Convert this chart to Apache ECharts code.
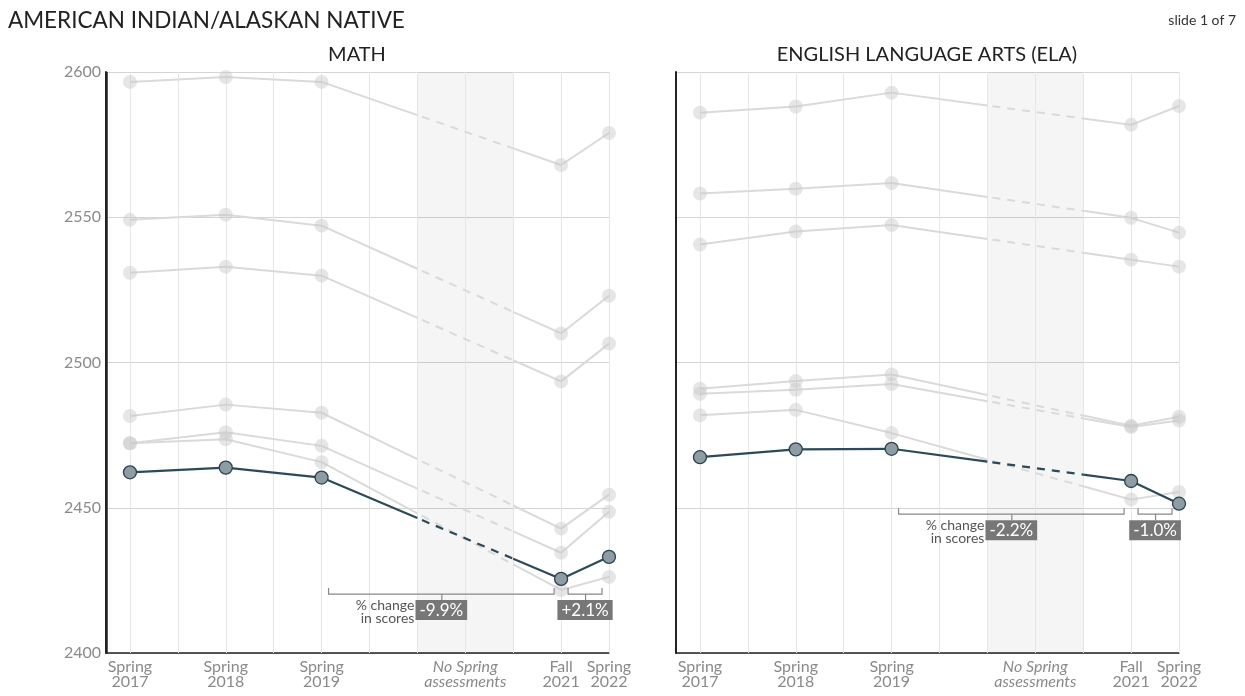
<!DOCTYPE html>
<html>
<head>
<meta charset="utf-8">
<title>AMERICAN INDIAN/ALASKAN NATIVE</title>
<script src="https://cdn.jsdelivr.net/npm/echarts@6/dist/echarts.min.js"></script>
<style>
html,body{margin:0;padding:0;background:#fff;}
#main{width:1245px;height:696px;}
</style>
</head>
<body>
<div id="main"></div>
<script>
// x runs in half-year steps: 0 = Spring 2017 ... 10 = Spring 2022
var pointPos = [0, 2, 4, 9, 10];
var labelPos = [0, 2, 4, 7, 9, 10];
var labelText = ['Spring\n2017', 'Spring\n2018', 'Spring\n2019', 'No Spring\nassessments', 'Fall\n2021', 'Spring\n2022'];
var vLinePos = [0, 1, 2, 3, 4, 5, 6, 7, 8, 9, 10];
var gapArea = [6, 8]; // no spring assessments
var xMin = -0.5, xMax = 10;
var yMin = 2400, yMax = 2600, yStep = 50;

// math scores (this group highlighted, other groups grey)
var mathHighlight = [2462.2, 2463.8, 2460.4, 2425.5, 2433.1];
var mathOthers = [
  [2596.6, 2598.3, 2596.6, 2568.0, 2579.0],
  [2549.1, 2550.9, 2547.1, 2510.0, 2523.0],
  [2530.9, 2533.0, 2529.9, 2493.5, 2506.5],
  [2481.6, 2485.5, 2482.7, 2442.8, 2454.5],
  [2472.2, 2476.0, 2471.3, 2434.5, 2448.6],
  [2472.2, 2473.6, 2465.7, 2421.7, 2426.2]
];
// ELA scores
var elaHighlight = [2467.4, 2470.1, 2470.3, 2459.2, 2451.4];
var elaOthers = [
  [2586.0, 2588.1, 2592.9, 2581.8, 2588.3],
  [2558.2, 2559.8, 2561.8, 2549.8, 2544.7],
  [2540.6, 2545.1, 2547.3, 2535.4, 2533.0],
  [2491.0, 2493.6, 2495.9, 2478.2, 2481.3],
  [2489.2, 2490.6, 2492.6, 2477.8, 2480.0],
  [2481.8, 2483.7, 2475.7, 2452.8, 2455.4]
];
var mathChange = ['-9.9%', '+2.1%'];
var elaChange = ['-2.2%', '-1.0%'];
var mathBracketAt = 2420.3, elaBracketAt = 2447.8;

var FONT = 'Lato, "Open Sans", sans-serif';
var GREY_LINE = '#dadada', DARK_LINE = '#2c4a59';

function toPoints(row) {
  return [[pointPos[0], row[0]], [pointPos[1], row[1]], [pointPos[2], row[2]],
          [gapArea[0], '-'], [pointPos[3], row[3]], [pointPos[4], row[4]]];
}

// line from 2019 to fall 2021: solid, dashed through the grey band, solid again
function bridgeRenderer(color, width) {
  return function (params, api) {
    var p0 = api.coord([api.value(0), api.value(1)]);
    var p1 = api.coord([api.value(2), api.value(3)]);
    var xa = api.coord([gapArea[0], api.value(1)])[0];
    var xb = api.coord([gapArea[1], api.value(1)])[0];
    function at(x) { return [x, p0[1] + (p1[1] - p0[1]) * (x - p0[0]) / (p1[0] - p0[0])]; }
    var a = at(xa), b = at(xb);
    return {
      type: 'group',
      children: [
        {type: 'line', shape: {x1: p0[0], y1: p0[1], x2: a[0], y2: a[1]}, style: {stroke: color, lineWidth: width}},
        {type: 'line', shape: {x1: a[0], y1: a[1], x2: b[0], y2: b[1]}, style: {stroke: color, lineWidth: width, lineDash: [8, 7], lineDashOffset: -5}},
        {type: 'line', shape: {x1: b[0], y1: b[1], x2: p1[0], y2: p1[1]}, style: {stroke: color, lineWidth: width}}
      ]
    };
  };
}

function panelSeries(g, highlight, others) {
  var list = [];
  // frame: grey band + vertical grid lines
  list.push({
    type: 'line', xAxisIndex: g, yAxisIndex: g, data: [], silent: true,
    markArea: {
      z: 1, silent: true,
      itemStyle: {color: 'rgba(0,0,0,0.04)'},
      data: [[{xAxis: gapArea[0]}, {xAxis: gapArea[1]}]]
    },
    markLine: {
      z: 1, silent: true, symbol: 'none', label: {show: false},
      lineStyle: {color: '#e6e6e6', width: 1, type: 'solid'},
      data: vLinePos.map(function (x) { return {xAxis: x}; })
    }
  });
  others.forEach(function (row) {
    list.push({
      type: 'line', xAxisIndex: g, yAxisIndex: g, z: 2, silent: true,
      data: toPoints(row), connectNulls: false,
      symbol: 'circle', symbolSize: 14,
      lineStyle: {color: GREY_LINE, width: 2},
      itemStyle: {color: 'rgba(200,200,200,0.45)', borderWidth: 0}
    });
  });
  list.push({
    type: 'custom', xAxisIndex: g, yAxisIndex: g, z: 2, silent: true,
    renderItem: bridgeRenderer(GREY_LINE, 2),
    encode: {x: [0, 2], y: [1, 3]},
    data: others.map(function (r) { return [pointPos[2], r[2], pointPos[3], r[3]]; })
  });
  list.push({
    type: 'custom', xAxisIndex: g, yAxisIndex: g, z: 3, silent: true,
    renderItem: bridgeRenderer(DARK_LINE, 2.2),
    encode: {x: [0, 2], y: [1, 3]},
    data: [[pointPos[2], highlight[2], pointPos[3], highlight[3]]]
  });
  list.push({
    type: 'line', xAxisIndex: g, yAxisIndex: g, z: 4, silent: true,
    data: toPoints(highlight), connectNulls: false,
    symbol: 'circle', symbolSize: 13,
    lineStyle: {color: DARK_LINE, width: 2.2},
    itemStyle: {color: '#8e9da4', borderColor: '#2a4452', borderWidth: 1.3}
  });
  return list;
}

function xLabel(v) {
  for (var i = 0; i < labelPos.length; i++) {
    if (Math.abs(v - labelPos[i]) < 0.01) {
      if (labelPos[i] === 7) {
        return labelText[i].split('\n').map(function (t) { return '{it|' + t + '}'; }).join('\n');
      }
      return labelText[i];
    }
  }
  return '';
}

function xAxisFor(g) {
  return {
    type: 'value', gridIndex: g, min: xMin, max: xMax, interval: 0.5,
    splitLine: {show: false}, axisTick: {show: false},
    axisLine: {show: true, onZero: false, lineStyle: {color: '#222', width: 1.5}},
    axisLabel: {
      color: '#8a8a8a', fontSize: 16, lineHeight: 15, fontFamily: FONT, margin: 6,
      formatter: xLabel,
      rich: {it: {fontStyle: 'italic', color: '#8a8a8a', fontSize: 16, lineHeight: 15, fontFamily: FONT}}
    }
  };
}

function yAxisFor(g, showLabels) {
  return {
    type: 'value', gridIndex: g, min: yMin, max: yMax, interval: yStep, position: 'left',
    axisTick: {show: false},
    axisLine: {show: true, onZero: false, lineStyle: {color: '#222', width: 2}},
    splitLine: {show: true, lineStyle: {color: '#d4d4d4', width: 1}},
    axisLabel: {show: showLabels, color: '#8a8a8a', fontSize: 16, fontFamily: FONT, margin: 5,
      formatter: function (v) { return String(v); }}
  };
}

var chart = echarts.init(document.getElementById('main'));
chart.setOption({
  animation: false,
  backgroundColor: '#fff',
  textStyle: {fontFamily: FONT},
  title: [
    {text: 'AMERICAN INDIAN/ALASKAN NATIVE', left: 3, top: 4,
     textStyle: {fontSize: 22.5, fontWeight: 'normal', color: '#222', fontFamily: FONT}},
    {text: 'MATH', left: 352, top: 40, textAlign: 'center',
     textStyle: {fontSize: 20, fontWeight: 'normal', color: '#222', fontFamily: FONT}},
    {text: 'ENGLISH LANGUAGE ARTS (ELA)', left: 922, top: 40, textAlign: 'center',
     textStyle: {fontSize: 20, fontWeight: 'normal', color: '#222', fontFamily: FONT}},
    {text: 'slide 1 of 7', right: 4, top: 8,
     textStyle: {fontSize: 14, fontWeight: 'normal', color: '#333', fontFamily: FONT}}
  ],
  grid: [
    {left: 106, top: 72, width: 503, height: 581},
    {left: 676, top: 72, width: 503, height: 581}
  ],
  xAxis: [xAxisFor(0), xAxisFor(1)],
  yAxis: [yAxisFor(0, true), yAxisFor(1, false)],
  series: panelSeries(0, mathHighlight, mathOthers).concat(panelSeries(1, elaHighlight, elaOthers))
});

// "% change in scores" brackets, placed through the axes' scales
function brackets(g, level, changes) {
  var els = [];
  function px(x) { return chart.convertToPixel({gridIndex: g}, [x, level]); }
  var y = px(0)[1];
  var spans = [[px(pointPos[2])[0] + 7, px(pointPos[3])[0] - 7], [px(pointPos[3])[0] + 7, px(pointPos[4])[0] - 7]];
  spans.forEach(function (s, i) {
    var cx = (s[0] + s[1]) / 2;
    els.push({type: 'polyline', silent: true, z: 10,
      shape: {points: [[s[0], y - 6], [s[0], y], [s[1], y], [s[1], y - 6]]},
      style: {stroke: '#888', lineWidth: 1.2, fill: null}});
    els.push({type: 'polyline', silent: true, z: 10,
      shape: {points: [[cx + 0.5, y], [cx + 0.5, y + 6]]}, style: {stroke: '#888', lineWidth: 1.2, fill: null}});
    els.push({type: 'text', silent: true, z: 11, x: cx, y: y + 6,
      style: {text: changes[i], fill: '#fff', backgroundColor: '#777', padding: [2, 4, 1, 4],
              font: '17px ' + FONT, align: 'center', verticalAlign: 'top'}});
    if (i === 0) {
      els.push({type: 'text', silent: true, z: 11, x: cx - 27, y: y + 5,
        style: {text: '% change\nin scores', fill: '#555', font: '14px ' + FONT, lineHeight: 13,
                align: 'right', verticalAlign: 'top'}});
    }
  });
  return els;
}

// left axis line of the math panel (the axis did not draw it), from the scale
function leftLine(g) {
  var a = chart.convertToPixel({gridIndex: g}, [xMin, yMax]);
  var b = chart.convertToPixel({gridIndex: g}, [xMin, yMin]);
  return {type: 'polyline', silent: true, z: 50,
    shape: {points: [[a[0] + 0.5, a[1]], [b[0] + 0.5, b[1]]]}, style: {stroke: '#222', lineWidth: 2.5, fill: null}};
}

chart.setOption({
  graphic: brackets(0, mathBracketAt, mathChange)
    .concat(brackets(1, elaBracketAt, elaChange))
    .concat([leftLine(0)])
});
</script>
</body>
</html>
